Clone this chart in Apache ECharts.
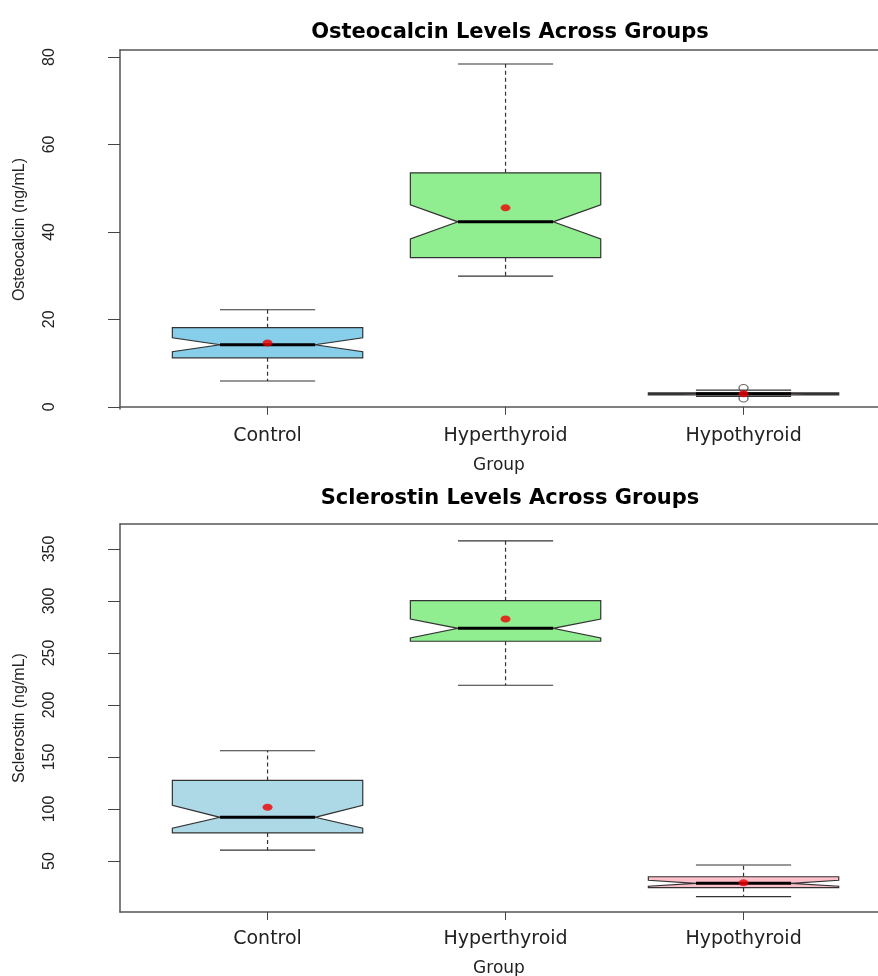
<!DOCTYPE html>
<html>
<head>
<meta charset="utf-8">
<title>Osteocalcin / Sclerostin boxplots</title>
<script src="https://cdn.jsdelivr.net/npm/echarts@6/dist/echarts.min.js"></script>
<style>
  html, body { margin: 0; padding: 0; background: #fff; }
  #main { width: 878px; height: 976px; }
</style>
</head>
<body>
<div id="main"></div>
<script>
// groups on the x axis (positions 1, 2, 3)
var groups = ['Control', 'Hyperthyroid', 'Hypothyroid'];
var groupPos = [1, 2, 3];

// osteocalcin (ng/mL)
var oscWhiskerLow  = [5.9, 29.9, 2.4];
var oscQ1          = [11.2, 34.1, 2.7];
var oscNotchLow    = [12.6, 38.4, 2.85];
var oscMedian      = [14.2, 42.3, 3.0];
var oscNotchHigh   = [15.8, 46.2, 3.15];
var oscQ3          = [18.1, 53.5, 3.2];
var oscWhiskerHigh = [22.2, 78.4, 3.8];
var oscMean        = [14.6, 45.5, 3.0];
var oscOutlierX    = [3, 3];
var oscOutlierY    = [4.3, 1.9];
var oscTicks       = [0, 20, 40, 60, 80];

// sclerostin (ng/mL)
var sclWhiskerLow  = [60.5, 219, 15.8];
var sclQ1          = [77, 261.3, 24.4];
var sclNotchLow    = [81.5, 264.5, 25.8];
var sclMedian      = [92, 273.7, 28.6];
var sclNotchHigh   = [103.5, 282.6, 31.5];
var sclQ3          = [127.5, 300.3, 34.9];
var sclWhiskerHigh = [156, 357.7, 46.2];
var sclMean        = [101.7, 282.6, 29.0];
var sclTicks       = [50, 100, 150, 200, 250, 300, 350];

var oscColors = ['#87CEEB', '#90EE90', '#FFC0CB'];
var sclColors = ['#ADD8E6', '#90EE90', '#FFC0CB'];

function buildRows(wl, q1, nl, md, nh, q3, wh) {
  return groupPos.map(function (x, i) {
    return [x, wl[i], q1[i], nl[i], md[i], nh[i], q3[i], wh[i]];
  });
}

function zip(xs, ys) {
  return xs.map(function (x, i) { return [x, ys[i]]; });
}

// notched box drawn the way R does it
function makeRenderer(colors) {
  return function (params, api) {
    var x = api.value(0);
    var wl = api.value(1), q1 = api.value(2), nl = api.value(3), md = api.value(4);
    var nh = api.value(5), q3 = api.value(6), wh = api.value(7);
    var half = 0.4, inner = 0.2, cap = 0.2;
    function p(dx, v) { return api.coord([x + dx, v]); }
    var edge = '#333';
    var dashed = { stroke: '#333', lineWidth: 1.2, lineDash: [4, 3] };
    var solid = { stroke: '#333', lineWidth: 1.2 };
    function line(a, b, style) {
      return { type: 'line', shape: { x1: a[0], y1: a[1], x2: b[0], y2: b[1] }, style: style };
    }
    return {
      type: 'group',
      children: [
        line(p(0, q3), p(0, wh), dashed),
        line(p(0, q1), p(0, wl), dashed),
        line(p(-cap, wh), p(cap, wh), solid),
        line(p(-cap, wl), p(cap, wl), solid),
        {
          type: 'polygon',
          shape: {
            points: [
              p(-half, q3), p(half, q3), p(half, nh), p(inner, md), p(half, nl),
              p(half, q1), p(-half, q1), p(-half, nl), p(-inner, md), p(-half, nh)
            ]
          },
          style: { fill: colors[params.dataIndex], stroke: edge, lineWidth: 1.2 }
        },
        line(p(-inner, md), p(inner, md), { stroke: '#000', lineWidth: 3 })
      ]
    };
  };
}

var labelFont = 'DejaVu Sans';
var narrowFont = '"Liberation Sans Narrow", "Liberation Sans", sans-serif';

// plot region runs past the right edge of the picture, so the x range stops early
var xMin = 0.38, xMax = 3.565;

function xAxes(gridIndex) {
  return [{
    type: 'value', gridIndex: gridIndex, position: 'bottom',
    min: xMin, max: xMax,
    name: 'Group', nameLocation: 'middle', nameGap: 48,
    nameTextStyle: { fontFamily: labelFont, fontSize: 17, color: '#222' },
    axisLine: { show: true, lineStyle: { color: '#555', width: 1.5 } },
    axisTick: { show: true, customValues: groupPos, length: 8, lineStyle: { color: '#444' } },
    axisLabel: {
      customValues: groupPos, margin: 18,
      fontFamily: labelFont, fontSize: 19, color: '#222',
      formatter: function (v) { return groups[Math.round(v) - 1]; }
    },
    splitLine: { show: false }
  }, {
    type: 'value', gridIndex: gridIndex, position: 'top',
    min: xMin, max: xMax,
    axisLine: { show: true, onZero: false, lineStyle: { color: '#555', width: 1.5 } },
    axisTick: { show: false }, axisLabel: { show: false }, splitLine: { show: false }
  }];
}

function yAxes(gridIndex, min, max, ticks, name) {
  return [{
    type: 'value', gridIndex: gridIndex, position: 'left',
    min: min, max: max,
    name: name, nameLocation: 'middle', nameGap: 92,
    nameTextStyle: { fontFamily: narrowFont, fontSize: 16, color: '#222' },
    axisLine: { show: true, onZero: false, lineStyle: { color: '#555', width: 1.5 } },
    axisTick: { show: true, customValues: ticks, length: 12, lineStyle: { color: '#444' } },
    axisLabel: {
      customValues: ticks, rotate: 90, margin: 62,
      fontFamily: narrowFont, fontSize: 16, color: '#222'
    },
    splitLine: { show: false }
  }];
}

var myChart = echarts.init(document.getElementById('main'));

var option = {
  backgroundColor: '#fff',
  animation: false,
  title: [{
    text: 'Osteocalcin Levels Across Groups',
    left: 505, top: 17, textAlign: 'center',
    textStyle: { fontFamily: labelFont, fontWeight: 'bold', fontSize: 21, color: '#000' }
  }, {
    text: 'Sclerostin Levels Across Groups',
    left: 505, top: 483, textAlign: 'center',
    textStyle: { fontFamily: labelFont, fontWeight: 'bold', fontSize: 21, color: '#000' }
  }],
  grid: [
    { left: 120, top: 50, width: 758, height: 359, show: false, outerBoundsMode: 'none' },
    { left: 120, top: 524, width: 758, height: 388, show: false, outerBoundsMode: 'none' }
  ],
  xAxis: xAxes(0).concat(xAxes(1)),
  yAxis: yAxes(0, -0.5, 81.6, oscTicks, 'Osteocalcin (ng/mL)')
    .concat(yAxes(1, 1, 374, sclTicks, 'Sclerostin (ng/mL)')),
  series: [{
    type: 'custom', xAxisIndex: 0, yAxisIndex: 0,
    renderItem: makeRenderer(oscColors),
    encode: { x: 0, y: [1, 2, 3, 4, 5, 6, 7] },
    data: buildRows(oscWhiskerLow, oscQ1, oscNotchLow, oscMedian, oscNotchHigh, oscQ3, oscWhiskerHigh)
  }, {
    type: 'scatter', xAxisIndex: 0, yAxisIndex: 0,
    symbol: 'circle', symbolSize: [9, 7],
    itemStyle: { color: 'rgba(255,255,255,0)', borderColor: '#444', borderWidth: 1.2 },
    data: zip(oscOutlierX, oscOutlierY)
  }, {
    type: 'scatter', xAxisIndex: 0, yAxisIndex: 0,
    symbol: 'circle', symbolSize: [10, 7],
    itemStyle: { color: '#ee0000' },
    data: zip(groupPos, oscMean)
  }, {
    type: 'custom', xAxisIndex: 2, yAxisIndex: 1,
    renderItem: makeRenderer(sclColors),
    encode: { x: 0, y: [1, 2, 3, 4, 5, 6, 7] },
    data: buildRows(sclWhiskerLow, sclQ1, sclNotchLow, sclMedian, sclNotchHigh, sclQ3, sclWhiskerHigh)
  }, {
    type: 'scatter', xAxisIndex: 2, yAxisIndex: 1,
    symbol: 'circle', symbolSize: [10, 7],
    itemStyle: { color: '#ee0000' },
    data: zip(groupPos, sclMean)
  }]
};

myChart.setOption(option);
</script>
</body>
</html>
